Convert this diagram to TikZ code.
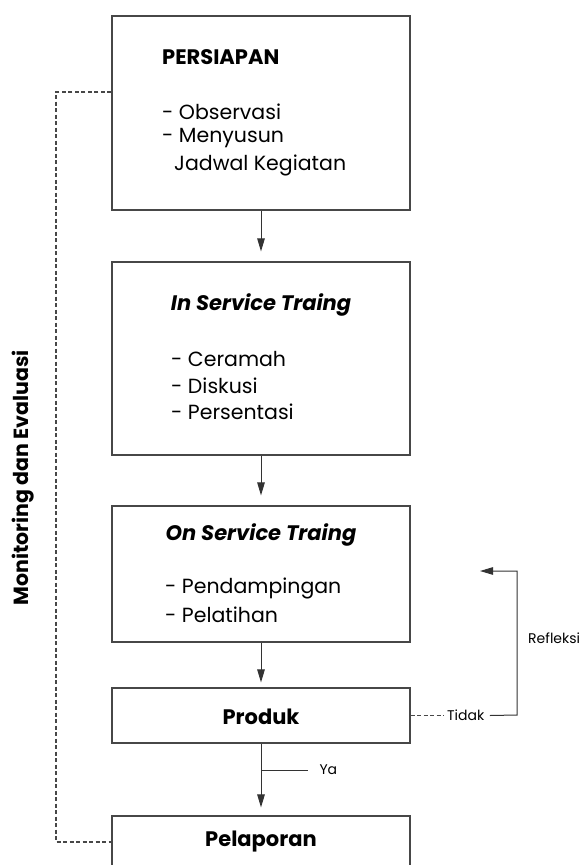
\documentclass[tikz,border=0pt]{standalone}
\usepackage{fontspec}
\setmainfont{Poppins}
\usetikzlibrary{arrows.meta}

\begin{document}
\begin{tikzpicture}[x=1pt, y=-1pt, >={Triangle[length=13pt,width=7.5pt]},
  box/.style={draw=black!72, line width=1.1pt, minimum width=298pt, inner sep=0pt},
  item/.style={anchor=west, inner sep=0pt, font=\fontsize{20.5}{24}\selectfont},
  head/.style={inner sep=0pt, font=\fontsize{21}{24}\selectfont\bfseries},
  small/.style={inner sep=0pt, font=\fontsize{14}{16}\selectfont},
  link/.style={draw=black!80, line width=1pt},
  dashlink/.style={draw=black!72, line width=1.1pt, dash pattern=on 4pt off 2.5pt}]
  \useasboundingbox (0,0) rectangle (581,865);
  % boxes
  \node[box, minimum height=194pt] (persiapan) at (261,113) {};
  \node[box, minimum height=193pt] (inservice) at (261,358.5) {};
  \node[box, minimum height=136pt] (onservice) at (261,574) {};
  \node[box, minimum height=55pt] (produk) at (261,715.5) {};
  \node[box, minimum height=52pt] (pelaporan) at (261,842) {};
  % texts
  \node[head, anchor=west] (tPersiapan) at (162,57) {PERSIAPAN};
  \node[item] (tObservasi) at (162,112) {- Observasi};
  \node[item] (tMenyusun) at (162,138) {- Menyusun};
  \node[item] (tJadwal) at (174,165) {Jadwal Kegiatan};
  \node[head, font=\fontsize{21}{24}\selectfont\bfseries\itshape] (tIn) at (261,305) {In Service Traing};
  \foreach \y/\t [count=\i] in {359/Ceramah, 386/Diskusi, 412/Persentasi}
    \node[item] (tIn\i) at (171,\y) {- \t};
  \node[head, font=\fontsize{21}{24}\selectfont\bfseries\itshape] (tOn) at (261,535) {On Service Traing};
  \foreach \y/\t [count=\i] in {588/Pendampingan, 615/Pelatihan}
    \node[item] (tOn\i) at (165,\y) {- \t};
  \node[head] (tProduk) at (261,717) {Produk};
  \node[head] (tPelaporan) at (261,842) {Pelaporan};
  % arrows
  \draw[link, ->, shorten >=10pt] (persiapan) -- (inservice);
  \draw[link, ->, shorten >=10pt] (inservice) -- (onservice);
  \draw[link, ->, shorten >=5pt] (onservice) -- (produk);
  \draw[link, ->, shorten >=8pt] (produk) -- (pelaporan);
  \path (produk.south) -- (pelaporan.north) coordinate[pos=0.37] (yaFork);
  \draw[link] (yaFork) -- ++(47,0) node[small, anchor=west, xshift=11pt] (tYa) {Ya};
  % refleksi
  \draw[dashlink] (produk.east) -- ++(33,0) node[small, anchor=west, xshift=3pt] (tTidak) {Tidak};
  \coordinate (reflEnd) at (480,571);
  \draw[link, ->] ([xshift=5pt]tTidak.east) -- (517,715) |- (reflEnd);
  \node[small, anchor=west] (tRefleksi) at (528,638) {Refleksi};
  % monitoring
  \coordinate (monTop) at (56,92);
  \draw[dashlink] (persiapan.west |- monTop) -- (monTop) |- (pelaporan.west);
  \node[head, rotate=90, font=\fontsize{20.5}{24}\selectfont\bfseries] (tMonitoring) at (23,478) {Monitoring dan Evaluasi};
\end{tikzpicture}
\end{document}
